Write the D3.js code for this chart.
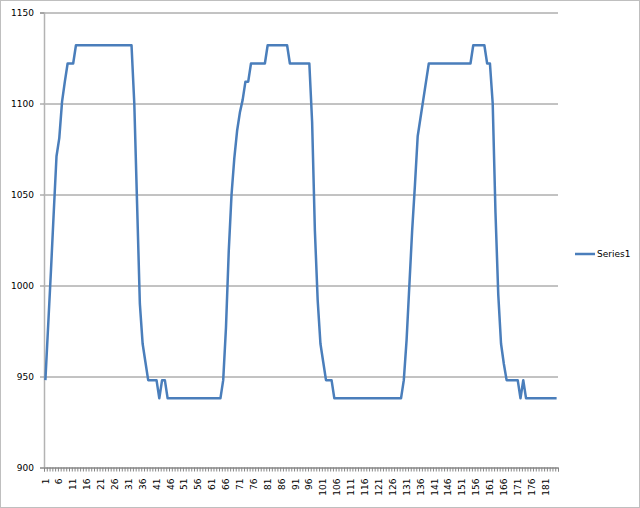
<!DOCTYPE html>
<html>
<head>
<meta charset="utf-8">
<script src="https://cdn.jsdelivr.net/npm/d3@7"></script>
<style>
  body { margin: 0; background: #fff; }
  text { font-family: "DejaVu Sans", sans-serif; }
</style>
</head>
<body>
<script>
// values, one per category (1..185)
const series1 = [
  948, 978, 1008, 1040, 1071, 1081, 1101, 1112, 1122, 1122,
  1122, 1132, 1132, 1132, 1132, 1132, 1132, 1132, 1132, 1132,
  1132, 1132, 1132, 1132, 1132, 1132, 1132, 1132, 1132, 1132,
  1132, 1132, 1100, 1045, 990, 968, 958, 948, 948, 948,
  948, 938, 948, 948, 938, 938, 938, 938, 938, 938,
  938, 938, 938, 938, 938, 938, 938, 938, 938, 938,
  938, 938, 938, 938, 948, 977, 1019, 1050, 1070, 1085,
  1095, 1102, 1112, 1112, 1122, 1122, 1122, 1122, 1122, 1122,
  1132, 1132, 1132, 1132, 1132, 1132, 1132, 1132, 1122, 1122,
  1122, 1122, 1122, 1122, 1122, 1122, 1090, 1030, 992, 968,
  958, 948, 948, 948, 938, 938, 938, 938, 938, 938,
  938, 938, 938, 938, 938, 938, 938, 938, 938, 938,
  938, 938, 938, 938, 938, 938, 938, 938, 938, 948,
  970, 1000, 1030, 1055, 1082, 1092, 1102, 1112, 1122, 1122,
  1122, 1122, 1122, 1122, 1122, 1122, 1122, 1122, 1122, 1122,
  1122, 1122, 1122, 1122, 1132, 1132, 1132, 1132, 1132, 1122,
  1122, 1100, 1040, 995, 968, 957, 948, 948, 948, 948,
  948, 938, 948, 938, 938, 938, 938, 938, 938, 938,
  938, 938, 938, 938, 938
];
const categories = series1.map((d, i) => i + 1);
const xLabels = [1, 6, 11, 16, 21, 26, 31, 36, 41, 46, 51, 56, 61, 66, 71, 76, 81, 86, 91,
  96, 101, 106, 111, 116, 121, 126, 131, 136, 141, 146, 151, 156, 161, 166, 171, 176, 181];
const yTicks = [900, 950, 1000, 1050, 1100, 1150];
const seriesName = "Series1";

const width = 640;
const height = 508;
const plot = { left: 44, right: 558, top: 12.5, bottom: 467.5 };

const svg = d3.select("body")
  .append("svg")
  .attr("width", width)
  .attr("height", height);

// outer chart border
svg.append("rect")
  .attr("x", 0.5).attr("y", 0.5)
  .attr("width", width - 1).attr("height", height - 1)
  .attr("fill", "#fff")
  .attr("stroke", "#bfbfbf");

const x = d3.scaleBand()
  .domain(categories)
  .range([plot.left, plot.right]);

const xEdge = d3.scaleLinear()
  .domain([0, categories.length])
  .range([plot.left, plot.right]);

const y = d3.scaleLinear()
  .domain([900, 1150])
  .range([plot.bottom, plot.top]);

// horizontal gridlines
const grid = svg.append("g")
  .attr("transform", `translate(${plot.left},0)`)
  .call(d3.axisLeft(y).tickValues(yTicks).tickSize(-(plot.right - plot.left)).tickFormat(""));
grid.select(".domain").remove();
grid.selectAll("line").attr("stroke", "#868686");

// y axis
const yAxis = svg.append("g")
  .attr("transform", `translate(${plot.left},0)`)
  .call(d3.axisLeft(y).tickValues(yTicks).tickSize(4).tickPadding(6).tickFormat(d3.format("d")));
yAxis.select(".domain").attr("stroke", "#b3b3b3").attr("stroke-width", 1.5);
yAxis.selectAll("line").attr("stroke", "#868686");
yAxis.selectAll("text").attr("font-size", 9).attr("fill", "#000");

// x axis tick marks, one per category boundary
const xTicks = svg.append("g")
  .attr("transform", `translate(0,${plot.bottom})`)
  .call(d3.axisBottom(xEdge).tickValues(d3.range(0, categories.length + 1)).tickSize(4).tickFormat(""));
xTicks.select(".domain").attr("stroke", "#868686");
xTicks.selectAll("line").attr("stroke", "#868686");

// x axis labels, every 5th category, rotated
const xAxis = svg.append("g")
  .attr("transform", `translate(0,${plot.bottom})`)
  .call(d3.axisBottom(x).tickValues(xLabels).tickSize(0));
xAxis.select(".domain").remove();
xAxis.selectAll("text")
  .attr("transform", "rotate(-90)")
  .attr("text-anchor", "end")
  .attr("x", -11)
  .attr("y", 0)
  .attr("dy", "0.35em")
  .attr("font-size", 9)
  .attr("fill", "#000");

// the series line
const line = d3.line()
  .x((d, i) => x(categories[i]) + x.bandwidth() / 2)
  .y(d => y(d));

svg.append("path")
  .datum(series1)
  .attr("fill", "none")
  .attr("stroke", "#4a7ebb")
  .attr("stroke-width", 2.5)
  .attr("stroke-linejoin", "round")
  .attr("d", line);

// legend
const legend = svg.append("g").attr("transform", "translate(575,254)");
legend.append("line")
  .attr("x1", 0).attr("x2", 20)
  .attr("stroke", "#4a7ebb")
  .attr("stroke-width", 2.5);
legend.append("text")
  .attr("x", 22)
  .attr("dy", "0.35em")
  .attr("font-size", 9)
  .text(seriesName);
</script>
</body>
</html>
